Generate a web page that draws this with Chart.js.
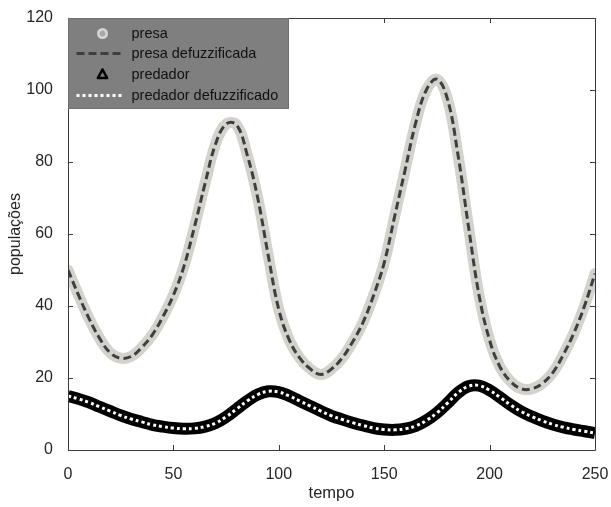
<!DOCTYPE html>
<html>
<head>
<meta charset="utf-8">
<script src="https://cdn.jsdelivr.net/npm/chart.js@4.4.1/dist/chart.umd.min.js"></script>
<style>
  html, body { margin: 0; padding: 0; background: #ffffff; }
  #wrap { width: 611px; height: 507px; position: relative; }
</style>
</head>
<body>
<div id="wrap"><canvas id="c" width="611" height="507"></canvas></div>
<script>
// ---- data ----
const tempo = [0,5,10,15,20,25,30,35,40,45,50,55,60,65,70,75,80,85,90,95,100,105,110,115,120,125,130,135,140,145,150,155,160,165,170,175,180,185,190,195,200,205,210,215,220,225,230,235,240,245,250];
const presa = [50,43,36.5,31,27,25.5,26,28.5,32,37,43,51,62,74,85,90.5,90.3,82,70,54,39,30.5,25.5,22.5,21,22.5,25.5,30,35.5,43,52,65,78,91,100,103,97.5,82,62,43,30.5,23,19,17,17,18.5,21.5,26.5,32.5,40,49];
const presaDefuzzificada = [50,43,36.5,31,27,25.5,26,28.5,32,37,43,51,62,74,85,90.5,90.3,82,70,54,39,30.5,25.5,22.5,21,22.5,25.5,30,35.5,43,52,65,78,91,100,103,97.5,82,62,43,30.5,23,19,17,17,18.5,21.5,26.5,32.5,40,49];
const predador = [15,14.2,13.2,12,10.8,9.6,8.6,7.8,7,6.5,6.1,5.9,6,6.5,7.5,9.2,11.4,13.6,15.4,16.3,16.1,15,13.6,12.2,10.8,9.5,8.5,7.6,6.8,6.1,5.7,5.6,5.9,6.7,8.2,10.3,13,15.9,17.7,17.9,16.6,14.6,12.5,10.7,9.3,8.1,7.1,6.3,5.7,5.2,4.7];
const predadorDefuzzificado = [15,14.2,13.2,12,10.8,9.6,8.6,7.8,7,6.5,6.1,5.9,6,6.5,7.5,9.2,11.4,13.6,15.4,16.3,16.1,15,13.6,12.2,10.8,9.5,8.5,7.6,6.8,6.1,5.7,5.6,5.9,6.7,8.2,10.3,13,15.9,17.7,17.9,16.6,14.6,12.5,10.7,9.3,8.1,7.1,6.3,5.7,5.2,4.7];
const seriesNames = ['presa', 'presa defuzzificada', 'predador', 'predador defuzzificado'];
const xTicks = [0,50,100,150,200,250];
const yTicks = [0,20,40,60,80,100,120];
const xTitle = 'tempo';
const yTitle = 'populações';

function pts(ys) { return tempo.map((t, i) => ({ x: t, y: ys[i] })); }

const AXIS = '#3a3a3a';
const TXT = '#262626';
const FONT = 'Liberation Sans, Arial, sans-serif';

const boxAndTicks = {
  id: 'boxAndTicks',
  afterDatasetsDraw(chart) {
    const { ctx, chartArea: a, scales } = chart;
    ctx.save();
    ctx.strokeStyle = AXIS;
    ctx.lineWidth = 1;
    ctx.beginPath();
    ctx.rect(Math.round(a.left) + 0.5, Math.round(a.top) + 0.5, Math.round(a.right - a.left), Math.round(a.bottom - a.top));
    ctx.stroke();
    const L = 5;
    ctx.beginPath();
    xTicks.forEach(v => {
      const x = Math.round(scales.x.getPixelForValue(v)) + 0.5;
      ctx.moveTo(x, a.bottom); ctx.lineTo(x, a.bottom - L);
      ctx.moveTo(x, a.top); ctx.lineTo(x, a.top + L);
    });
    yTicks.forEach(v => {
      const y = Math.round(scales.y.getPixelForValue(v)) + 0.5;
      ctx.moveTo(a.left, y); ctx.lineTo(a.left + L, y);
      ctx.moveTo(a.right, y); ctx.lineTo(a.right - L, y);
    });
    ctx.stroke();
    ctx.restore();
  },
  afterDraw(chart) {
    const { ctx, chartArea: a } = chart;
    const ds = chart.data.datasets;
    ctx.save();
    const bx = a.left + 0.5, by = a.top + 0.5, bw = 220, bh = 90;
    ctx.fillStyle = '#7f7f7f';
    ctx.fillRect(bx, by, bw, bh);
    ctx.strokeStyle = '#6f6f6f';
    ctx.lineWidth = 1;
    ctx.strokeRect(bx, by, bw, bh);
    const rows = [by + 15, by + 35, by + 56, by + 77];
    const sx0 = bx + 8, sx1 = bx + 56, mx = bx + 34, tx = bx + 63;
    // presa marker (circle)
    ctx.beginPath();
    ctx.arc(mx, rows[0], 4.2, 0, Math.PI * 2);
    ctx.fillStyle = '#a9a9a9';
    ctx.fill();
    ctx.lineWidth = 2.6;
    ctx.strokeStyle = '#d6d6d6';
    ctx.stroke();
    // presa defuzzificada (dashed)
    ctx.beginPath();
    ctx.setLineDash(ds[1].borderDash);
    ctx.strokeStyle = ds[1].borderColor;
    ctx.lineWidth = 3;
    ctx.moveTo(sx0, rows[1]); ctx.lineTo(sx1, rows[1]);
    ctx.stroke();
    ctx.setLineDash([]);
    // predador marker (triangle)
    ctx.beginPath();
    ctx.moveTo(mx, rows[2] - 5);
    ctx.lineTo(mx + 4.6, rows[2] + 3.5);
    ctx.lineTo(mx - 4.6, rows[2] + 3.5);
    ctx.closePath();
    ctx.lineWidth = 2.6;
    ctx.lineJoin = 'round';
    ctx.strokeStyle = '#000000';
    ctx.stroke();
    // predador defuzzificado (dotted white)
    ctx.beginPath();
    ctx.setLineDash(ds[3].borderDash);
    ctx.strokeStyle = '#ffffff';
    ctx.lineWidth = 3;
    ctx.moveTo(sx0, rows[3]); ctx.lineTo(sx1, rows[3]);
    ctx.stroke();
    ctx.setLineDash([]);
    ctx.fillStyle = '#111111';
    ctx.font = '14.5px ' + FONT;
    ctx.textBaseline = 'middle';
    ctx.textAlign = 'left';
    seriesNames.forEach((n, i) => ctx.fillText(n, tx, rows[i] + 0.5));
    ctx.restore();
  }
};

new Chart(document.getElementById('c'), {
  type: 'line',
  data: {
    datasets: [
      { label: seriesNames[0], data: pts(presa), borderColor: '#d3d2cd', borderWidth: 11, borderCapStyle: 'round', borderJoinStyle: 'round', pointRadius: 0, tension: 0.4, order: 4 },
      { label: seriesNames[1], data: pts(presaDefuzzificada), borderColor: '#3e3e3e', borderWidth: 3, borderDash: [8, 4], pointRadius: 0, tension: 0.4, order: 3 },
      { label: seriesNames[2], data: pts(predador), borderColor: '#000000', borderWidth: 12, borderCapStyle: 'butt', borderJoinStyle: 'round', pointRadius: 0, tension: 0.4, order: 2 },
      { label: seriesNames[3], data: pts(predadorDefuzzificado), borderColor: '#ffffff', borderWidth: 3, borderDash: [3, 3], pointRadius: 0, tension: 0.4, order: 1 }
    ]
  },
  options: {
    responsive: false,
    animation: false,
    layout: { padding: { top: 18, right: 16, left: 0, bottom: 0 } },
    plugins: { legend: { display: false }, tooltip: { enabled: false } },
    scales: {
      x: {
        type: 'linear', min: 0, max: 250,
        afterBuildTicks: s => { s.ticks = xTicks.map(v => ({ value: v })); },
        afterFit: s => { s.height = 57; s.paddingLeft = 0; s.paddingRight = 0; },
        grid: { display: false }, border: { display: false },
        ticks: { color: TXT, font: { size: 16, family: FONT }, padding: 7, maxRotation: 0 },
        title: { display: true, text: xTitle, color: TXT, font: { size: 16.5, family: FONT }, padding: { top: 0, bottom: 4 } }
      },
      y: {
        type: 'linear', min: 0, max: 120,
        afterBuildTicks: s => { s.ticks = yTicks.map(v => ({ value: v })); },
        afterFit: s => { s.width = 68; s.paddingTop = 0; s.paddingBottom = 0; },
        grid: { display: false }, border: { display: false },
        ticks: { color: TXT, font: { size: 16, family: FONT }, padding: 7 },
        title: { display: true, text: yTitle, color: TXT, font: { size: 16, family: FONT }, padding: { top: 6, bottom: 0 } }
      }
    }
  },
  plugins: [boxAndTicks]
});
</script>
</body>
</html>
